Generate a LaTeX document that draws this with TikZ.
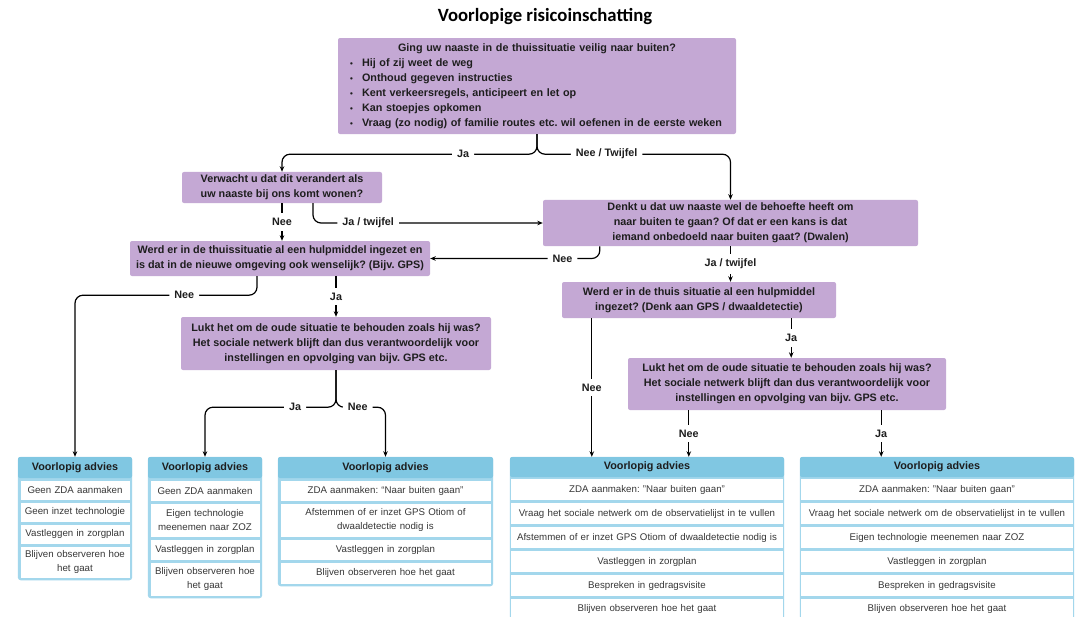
\documentclass[tikz,border=0pt]{standalone}
\usepackage{fontspec}
\setmainfont{Liberation Sans}
\newfontfamily\titelfont{Carlito}
\usetikzlibrary{positioning,calc,arrows.meta,backgrounds}
\frenchspacing

\definecolor{paars}{RGB}{196,168,212}
\definecolor{advblauw}{RGB}{128,199,226}
\definecolor{advrand}{RGB}{163,215,236}
\definecolor{advtekst}{RGB}{55,55,55}
\definecolor{donker}{RGB}{30,30,30}
\newcommand{\bol}{\makebox[12pt][l]{\fontsize{8}{8}\selectfont\textbullet}}

\begin{document}
\begin{tikzpicture}[x=1pt, y=-1pt,
    vraag/.style={fill=paars, rounded corners=2pt, align=center, text=donker, font=\fontsize{10.8}{15}\selectfont\bfseries, inner sep=3pt},
    pijl/.style={line width=1.2pt, -{Stealth[length=5.5pt,width=4.5pt]}},
    keuze/.style={fill=white, font=\fontsize{10.8}{13}\selectfont\bfseries, text=donker, inner xsep=5pt, inner ysep=5pt},
    kop/.style={fill=advblauw, rounded corners=2pt, minimum height=21pt, font=\fontsize{10.8}{13}\selectfont\bfseries, text=donker, inner sep=0pt},
    regel/.style={fill=white, text width=#1, align=center, inner xsep=2pt, inner ysep=1pt, minimum height=20pt, font=\fontsize{9.7}{14}\selectfont, text=advtekst}]

    \useasboundingbox (0,0) rectangle (1081,616);
    \begin{pgfonlayer}{background}
        \fill[white] (0,0) rectangle (1081,616);
    \end{pgfonlayer}

    \node[font=\titelfont\fontsize{18.7}{20}\selectfont\bfseries] (titel) at (545,17) {Voorlopige risicoinschatting};

    \node[vraag, align=left, text width=374pt, inner xsep=12pt, minimum height=96pt] (v1) at (537,86) {\makebox[374pt]{Ging uw naaste in de thuissituatie veilig naar buiten?}\\
        \bol Hij of zij weet de weg\\
        \bol Onthoud gegeven instructies\\
        \bol Kent verkeersregels, anticipeert en let op\\
        \bol Kan stoepjes opkomen\\
        \bol Vraag (zo nodig) of familie routes etc. wil oefenen in de eerste weken};
    \node[vraag, minimum width=200pt, minimum height=31pt] (v2) at (282,187.5) {Verwacht u dat dit verandert als\\uw naaste bij ons komt wonen?};
    \node[vraag, minimum width=375pt, minimum height=46pt] (v3) at (730.5,223) {Denkt u dat uw naaste wel de behoefte heeft om\\naar buiten te gaan? Of dat er een kans is dat\\iemand onbedoeld naar buiten gaat? (Dwalen)};
    \node[vraag, minimum width=300pt, minimum height=35pt] (v4) at (280,258.5) {Werd er in de thuissituatie al een hulpmiddel ingezet en\\is dat in de nieuwe omgeving ook wenselijk? (Bijv. GPS)};
    \node[vraag, minimum width=274pt, minimum height=36pt] (v5) at (699,300) {Werd er in de thuis situatie al een hulpmiddel\\ingezet? (Denk aan GPS / dwaaldetectie)};
    \node[vraag, minimum width=310pt, minimum height=53pt] (v6) at (336,343.5) {Lukt het om de oude situatie te behouden zoals hij was?\\Het sociale netwerk blijft dan dus verantwoordelijk voor\\instellingen en opvolging van bijv. GPS etc.};
    \node[vraag, minimum width=318pt, minimum height=52pt] (v7) at (787,384) {Lukt het om de oude situatie te behouden zoals hij was?\\Het sociale netwerk blijft dan dus verantwoordelijk voor\\instellingen en opvolging van bijv. GPS etc.};

    \node[kop, minimum width=114pt] (a1) at (75,467.5) {Voorlopig advies};
    \node[regel=105pt, below=2.5pt of a1, minimum height=19pt] (a1r1) {Geen ZDA aanmaken};
    \node[regel=105pt, below=2.5pt of a1r1, minimum height=19pt] (a1r2) {Geen inzet technologie};
    \node[regel=105pt, below=2.5pt of a1r2, minimum height=19pt] (a1r3) {Vastleggen in zorgplan};
    \node[regel=105pt, below=2.5pt of a1r3, minimum height=31pt] (a1r4) {Blijven observeren hoe\\het gaat};

    \node[kop, minimum width=114pt] (a2) at (205,467.5) {Voorlopig advies};
    \node[regel=105pt, below=2.5pt of a2] (a2r1) {Geen ZDA aanmaken};
    \node[regel=105pt, below=2.5pt of a2r1, minimum height=33pt] (a2r2) {Eigen technologie\\meenemen naar ZOZ};
    \node[regel=105pt, below=2.5pt of a2r2] (a2r3) {Vastleggen in zorgplan};
    \node[regel=105pt, below=2.5pt of a2r3, minimum height=33pt] (a2r4) {Blijven observeren hoe\\het gaat};

    \node[kop, minimum width=215pt] (a3) at (385.5,467.5) {Voorlopig advies};
    \node[regel=206pt, below=2.5pt of a3] (a3r1) {ZDA aanmaken: “Naar buiten gaan”};
    \node[regel=206pt, below=2.5pt of a3r1, minimum height=33pt] (a3r2) {Afstemmen of er inzet GPS Otiom of\\dwaaldetectie nodig is};
    \node[regel=206pt, below=2.5pt of a3r2] (a3r3) {Vastleggen in zorgplan};
    \node[regel=206pt, below=2.5pt of a3r3, minimum height=21pt] (a3r4) {Blijven observeren hoe het gaat};

    \node[kop, minimum width=274pt, minimum height=20pt] (a4) at (647,467) {Voorlopig advies};
    \node[regel=268pt, below=2pt of a4, minimum height=21pt] (a4r1) {ZDA aanmaken: "Naar buiten gaan"};
    \node[regel=268pt, below=2.5pt of a4r1, minimum height=21pt] (a4r2) {Vraag het sociale netwerk om de observatielijst in te vullen};
    \node[regel=268pt, below=2.5pt of a4r2, minimum height=21pt] (a4r3) {Afstemmen of er inzet GPS Otiom of dwaaldetectie nodig is};
    \node[regel=268pt, below=2.5pt of a4r3, minimum height=21pt] (a4r4) {Vastleggen in zorgplan};
    \node[regel=268pt, below=2.5pt of a4r4, minimum height=21pt] (a4r5) {Bespreken in gedragsvisite};
    \node[regel=268pt, below=2.5pt of a4r5, minimum height=21pt] (a4r6) {Blijven observeren hoe het gaat};

    \node[kop, minimum width=274pt, minimum height=20pt] (a5) at (937,467) {Voorlopig advies};
    \node[regel=268pt, below=2pt of a5, minimum height=21pt] (a5r1) {ZDA aanmaken: "Naar buiten gaan"};
    \node[regel=268pt, below=2.5pt of a5r1, minimum height=21pt] (a5r2) {Vraag het sociale netwerk om de observatielijst in te vullen};
    \node[regel=268pt, below=2.5pt of a5r2, minimum height=21pt] (a5r3) {Eigen technologie meenemen naar ZOZ};
    \node[regel=268pt, below=2.5pt of a5r3, minimum height=21pt] (a5r4) {Vastleggen in zorgplan};
    \node[regel=268pt, below=2.5pt of a5r4, minimum height=21pt] (a5r5) {Bespreken in gedragsvisite};
    \node[regel=268pt, below=2.5pt of a5r5, minimum height=21pt] (a5r6) {Blijven observeren hoe het gaat};

    \begin{pgfonlayer}{background}
        \fill[advrand, rounded corners=3pt] (a1.north west) rectangle ($(a1r4.south -| a1.east)+(0,2.5)$);
        \fill[advrand, rounded corners=3pt] (a2.north west) rectangle ($(a2r4.south -| a2.east)+(0,2.5)$);
        \fill[advrand, rounded corners=3pt] (a3.north west) rectangle ($(a3r4.south -| a3.east)+(0,2.5)$);
        \fill[advrand, rounded corners=3pt] (a4.north west) rectangle ($(a4r6.south -| a4.east)+(0,2.5)$);
        \fill[advrand, rounded corners=3pt] (a5.north west) rectangle ($(a5r6.south -| a5.east)+(0,2.5)$);
    \end{pgfonlayer}

    \draw[pijl, rounded corners=8pt] (v1.south) -- ++(0,20) -| node[keuze, pos=0.145] {Ja} (v2.north);
    \draw[pijl, rounded corners=8pt] (v1.south) -- ++(0,20) -| node[keuze, pos=0.18] {Nee / Twijfel} (v3.north);
    \draw[pijl] (v2.south) -- node[keuze] {Nee} (v2.south |- v4.north);
    \draw[pijl, rounded corners=8pt] ($(v2.south)+(31,0)$) |- node[keuze, pos=0.62] {Ja / twijfel} (v3.west);
    \draw[pijl, rounded corners=8pt] ($(v3.south west)+(57,0)$) |- node[keuze, pos=0.61] {Nee} (v4.east);
    \draw[pijl] (v3.south) -- node[keuze] {Ja / twijfel} (v3.south |- v5.north);
    \draw[pijl, rounded corners=8pt] ($(v4.south)+(-23,0)$) -- ++(0,19) -| node[keuze, pos=0.2] {Nee} (a1.north);
    \draw[pijl] (v4.south -| v6.north) -- node[keuze] {Ja} (v6.north);
    \draw[pijl, rounded corners=8pt] (v6.south) -- ++(0,37) -| node[keuze, pos=0.156] {Ja} (a2.north);
    \draw[pijl, rounded corners=8pt] (v6.south) -- ++(0,37) -| node[keuze, pos=0.22] {Nee} (a3.north);
    \draw[pijl] ($(v5.south west)+(30,0)$) coordinate (n5) -- node[keuze] {Nee} (n5 |- a4.north);
    \draw[pijl] ($(v5.south east)+(-45,0)$) coordinate (j5) -- node[keuze] {Ja} (j5 |- v7.north);
    \draw[pijl] ($(v7.south west)+(61,0)$) coordinate (n7) -- node[keuze] {Nee} (n7 |- a4.north);
    \draw[pijl] ($(v7.south east)+(-65,0)$) coordinate (j7) -- node[keuze] {Ja} (j7 |- a5.north);
\end{tikzpicture}
\end{document}
